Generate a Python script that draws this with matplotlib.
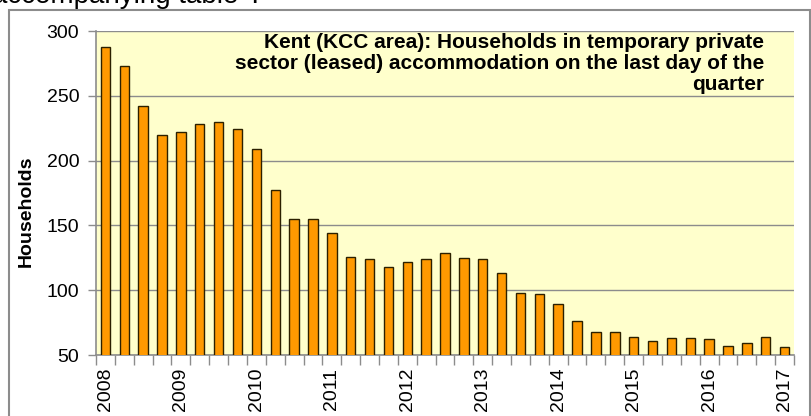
import matplotlib
matplotlib.use("Agg")
import matplotlib.pyplot as plt
from matplotlib.patches import Rectangle
import numpy as np

plt.rcParams['font.family'] = ['Liberation Sans', 'DejaVu Sans']

values = [288, 273, 242, 220, 222, 228, 230, 224, 209, 177, 155, 155, 144,
          126, 124, 118, 122, 124, 129, 125, 124, 113, 98, 97, 89, 76, 68, 68,
          64, 61, 63, 63, 62, 57, 59, 64, 56]
year_labels = ['2008', '2009', '2010', '2011', '2012', '2013', '2014', '2015', '2016', '2017']
y_ticks = [50, 100, 150, 200, 250, 300]
title = "Kent (KCC area): Households in temporary private\nsector (leased) accommodation on the last day of the\nquarter"
ylabel = "Households"
top_text = "accompanying table '."

W, H = 811, 416
fig = plt.figure(figsize=(W / 100, H / 100), dpi=100)
ax = fig.add_axes([96 / W, 61 / H, (794 - 96) / W, (355 - 31) / H])
ax.set_facecolor('#FFFFCC')

x = np.arange(len(values))
ax.bar(x, values, width=0.5, color='#FF9900', edgecolor='#2b2000', linewidth=1.0, zorder=3, bottom=0)
ax.set_xlim(-0.5, len(values) - 0.5)
ax.set_ylim(50, 300)

ax.set_yticks(y_ticks)
ax.set_yticklabels([str(v) for v in y_ticks], fontsize=14)
ax.yaxis.grid(True, color='#8c8c8c', linewidth=1.0, zorder=1)
ax.set_axisbelow(True)

major = np.arange(0, len(values), 4)
ax.set_xticks(major)
ax.set_xticklabels(year_labels, rotation=90, fontsize=14)
ax.set_xticks(np.arange(-0.5, len(values), 1), minor=True)
ax.tick_params(axis='x', which='major', length=0, pad=9)
ax.tick_params(axis='x', which='minor', length=7, color='#8c8c8c', width=1)
ax.tick_params(axis='y', length=6, color='#8c8c8c', width=1, pad=6)

for s in ['right', 'top']:
    ax.spines[s].set_visible(False)
for s in ['left', 'bottom']:
    ax.spines[s].set_color('#8c8c8c')
    ax.spines[s].set_linewidth(1.2)

fig.text(26 / W, 1 - 211 / H, ylabel, rotation=90, fontsize=14, fontweight='bold',
         ha='center', va='center')

fig.text(764 / W, 1 - 33 / H, title, ha='right', va='top', multialignment='right',
         fontsize=15, fontweight='bold', linespacing=1.12)

fig.text(-8 / W, 1 - 3 / H, top_text, ha='left', va='baseline', fontsize=20)

fig.add_artist(Rectangle((9 / W, -0.05), (810 - 9) / W, 1.05 - 10 / H,
                         transform=fig.transFigure, fill=False,
                         edgecolor='#8c8c8c', linewidth=1.5, clip_on=False))

fig.savefig('out.png', dpi=100)
